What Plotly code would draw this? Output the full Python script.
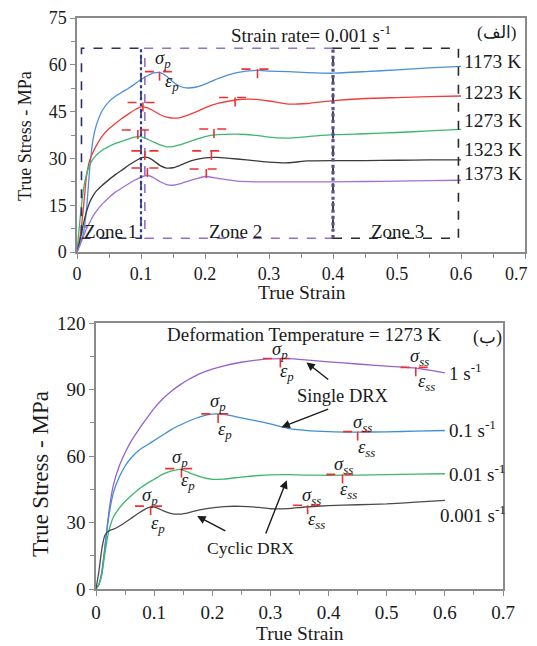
import plotly.graph_objects as go

# ---------------- Top chart data (strain rate 0.001 s^-1) ----------------
strain_top = [0, 0.005, 0.01, 0.015, 0.02, 0.025, 0.03, 0.04, 0.05, 0.06, 0.07, 0.08, 0.09,
              0.1, 0.11, 0.12, 0.13, 0.14, 0.15, 0.16, 0.17, 0.185, 0.2, 0.22, 0.25, 0.28,
              0.3, 0.33, 0.36, 0.4, 0.45, 0.5, 0.55, 0.6]
stress_1173 = [0, 2.5, 6, 14, 27, 36, 40.5, 45.5, 48.2, 49.9, 51.2, 52.4, 53.8,
               55.3, 56.5, 57.4, 57.5, 56.3, 54.5, 53.2, 52.6, 52.8, 53.8, 55.6, 57.5, 58.2,
               58, 57.8, 57.5, 57.3, 57.8, 58.4, 59, 59.5]
stress_1223 = [0, 5, 14, 24.5, 29.5, 32, 34, 37.3, 39.5, 41.2, 42.8, 44.2, 45.5,
               46.5, 46.2, 45.2, 44, 43.2, 42.9, 43, 43.6, 44.8, 46.2, 47.6, 48.8, 48.9,
               48.4, 47.4, 47.6, 48.5, 49.2, 49.5, 49.8, 50]
stress_1273 = [0, 11, 20, 25, 28, 29.8, 31, 32.7, 33.8, 34.8, 35.5, 36.2, 36.8,
               37, 36.2, 35.2, 34.3, 33.7, 33.8, 34.3, 35, 36, 37, 37.6, 37.8, 37.4,
               36.8, 36.5, 37, 37.6, 37.9, 38.3, 38.8, 39.3]
stress_1323 = [0, 4, 9, 13, 16, 18, 19.5, 21.5, 23.2, 24.8, 26.2, 27.7, 29,
               30.2, 30.3, 29.2, 27.7, 26.9, 27, 27.7, 28.6, 29.6, 30.2, 30.3, 29.8, 29.2,
               28.8, 28.6, 29.2, 29.3, 29.3, 29.4, 29.5, 29.5]
stress_1373 = [0, 2.5, 5, 7.5, 9.5, 11.5, 13, 15.5, 17.5, 19.2, 20.5, 21.8, 23,
               24, 24.6, 23.8, 22.5, 21.6, 21.4, 21.8, 22.5, 23.4, 24.2, 23.6, 22.7, 22.5,
               22.5, 22.5, 22.5, 22.5, 22.6, 22.7, 22.9, 23]
temp_labels = ["1173 K", "1223 K", "1273 K", "1323 K", "1373 K"]
temp_label_y = [61, 51, 42, 32.8, 25.3]
top_colors = ["#4a90d9", "#f23b3b", "#3fb66e", "#3a3a3a", "#9d72d2"]

# x tick values / labels (top chart's last label is placed separately so it is not clipped)
x_tickvals = [0, 0.1, 0.2, 0.3, 0.4, 0.5, 0.6, 0.7]
x_ticktext = ["0", "0.1", "0.2", "0.3", "0.4", "0.5", "0.6", "0.7"]

# peak / plateau marker points (strain, stress) for top chart
top_marks_strain = [0.129, 0.282, 0.103, 0.247, 0.095, 0.214, 0.106, 0.21, 0.11, 0.202]
top_marks_stress = [57.8, 58.6, 47.9, 49.5, 39.1, 39.4, 32.4, 32.4, 26.9, 26.6]
top_marks_left = [0.106, 0.257, 0.079, 0.222, 0.07, 0.191, 0.085, 0.18, 0.085, 0.176]
top_marks_right = [0.155, 0.30, 0.129, 0.27, 0.117, 0.238, 0.134, 0.227, 0.137, 0.219]

# zones (strain ranges)
zone_names = ["Zone 1", "Zone 2", "Zone 3"]
zone_start = [0.007, 0.106, 0.4]
zone_end = [0.1, 0.4, 0.596]
zone_label_x = [0.052, 0.247, 0.5]
zone_colors = ["#2b2f63", "#9470c8", "#2a2a2a"]
zone_low, zone_high = 4.4, 65.3

# ---------------- Bottom chart data (T = 1273 K) ----------------
strain_bot = [0, 0.005, 0.01, 0.015, 0.02, 0.025, 0.03, 0.04, 0.05, 0.06, 0.075, 0.09,
              0.1, 0.115, 0.13, 0.145, 0.16, 0.18, 0.2, 0.22, 0.25, 0.28, 0.3, 0.33,
              0.36, 0.4, 0.45, 0.5, 0.55, 0.6]
stress_1 = [0, 2, 8, 18, 30, 40, 47, 55.5, 61.5, 66.5, 72.5, 78,
            81.5, 85.8, 89.3, 92.2, 94.6, 97.3, 99.2, 100.7, 102.3, 103.4, 103.8, 103.9,
            103.4, 102.5, 101.5, 100.5, 99.6, 97.5]
stress_01 = [0, 2, 7, 18, 29, 37.5, 43.5, 50.5, 55.5, 59, 62.8, 65.3,
             67, 69.5, 72, 74, 75.8, 77.8, 78.9, 78.8, 77.2, 75.6, 74.5, 72.5,
             71.6, 71, 70.8, 70.9, 71.2, 71.5]
stress_001 = [0, 2, 6.5, 15.5, 23.5, 29, 32.5, 36.5, 39.5, 42, 45.3, 48,
              49.5, 51.8, 53.3, 54, 52.5, 50.6, 49.5, 49.6, 50.5, 51.2, 51.5, 51.6,
              51.4, 51.3, 51.4, 51.6, 51.8, 52]
stress_0001 = [0, 8, 18, 24, 25.8, 26.6, 27, 28.3, 30, 31.8, 34.5, 36.7,
               37, 35.4, 34, 33.8, 34.5, 35.8, 36.6, 37.2, 37.3, 36.8, 36.2, 36.3,
               37, 37.6, 38, 38.4, 39.2, 40]
rate_labels = ["1 s<sup>-1</sup>", "0.1 s<sup>-1</sup>", "0.01 s<sup>-1</sup>", "0.001 s<sup>-1</sup>"]
rate_label_x = [0.603, 0.603, 0.603, 0.588]
rate_label_y = [97.7, 72, 52.5, 34]
bot_colors = ["#9462cc", "#3f8fd6", "#3fb66e", "#4a4a4a"]

# peak markers (sigma_p) and steady-state markers (sigma_ss) bottom chart
bot_peak_strain = [0.317, 0.21, 0.147, 0.094]
bot_peak_stress = [104, 79, 54.3, 37.4]
bot_peak_left = [0.287, 0.181, 0.119, 0.067]
bot_peak_right = [0.345, 0.236, 0.176, 0.122]
bot_ss_strain = [0.55, 0.45, 0.424, 0.364]
bot_ss_stress = [100, 71, 51.7, 37.8]
bot_ss_left = [0.524, 0.425, 0.396, 0.339]
bot_ss_right = [0.578, 0.484, 0.448, 0.391]

SERIF = "Liberation Serif, Times New Roman, DejaVu Serif, serif"
W, H, OFF = 529, 638, 8   # page body has an 8px margin


def PX(px):
    return (px - OFF) / W


def PY(py):
    return 1 - (py - OFF) / H


fig = go.Figure()

top_series = [stress_1173, stress_1223, stress_1273, stress_1323, stress_1373]
for s, c in zip(top_series, top_colors):
    fig.add_trace(go.Scatter(x=strain_top, y=s, mode="lines", xaxis="x", yaxis="y",
                             line=dict(color=c, width=1.3, shape="spline", smoothing=0.5),
                             showlegend=False, hoverinfo="skip"))

bot_series = [stress_1, stress_01, stress_001, stress_0001]
for s, c in zip(bot_series, bot_colors):
    fig.add_trace(go.Scatter(x=strain_bot, y=s, mode="lines", xaxis="x2", yaxis="y2",
                             line=dict(color=c, width=1.3, shape="spline", smoothing=0.5),
                             showlegend=False, hoverinfo="skip"))

shapes = []
# zone boxes
for i in range(3):
    shapes.append(dict(type="rect", xref="x", yref="y", x0=zone_start[i], x1=zone_end[i],
                       y0=zone_low, y1=zone_high,
                       line=dict(color=zone_colors[i], width=1.6, dash="dash")))
shapes.append(dict(type="line", xref="x", yref="y", x0=zone_start[2], x1=zone_start[2],
                   y0=zone_low, y1=zone_high, line=dict(color="#5b5190", width=3.2, dash="dot")))
shapes.append(dict(type="line", xref="x", yref="y", x0=zone_end[0], x1=zone_end[0],
                   y0=zone_low, y1=zone_high, line=dict(color="#2b3a8a", width=2.2, dash="dot")))

RED = "#f03030"


def cross(xa, ya, xs, ys, xl, xr, drop):
    shapes.append(dict(type="line", xref=xa, yref=ya, x0=xl, x1=xr, y0=ys, y1=ys,
                       line=dict(color=RED, width=1.6, dash="dash")))
    shapes.append(dict(type="line", xref=xa, yref=ya, x0=xs, x1=xs, y0=ys, y1=ys - drop,
                       line=dict(color=RED, width=1.6, dash="dash")))


for i in range(len(top_marks_strain)):
    cross("x", "y", top_marks_strain[i], top_marks_stress[i], top_marks_left[i], top_marks_right[i], 4.2)
for i in range(4):
    cross("x2", "y2", bot_peak_strain[i], bot_peak_stress[i], bot_peak_left[i], bot_peak_right[i], 6.5)
    cross("x2", "y2", bot_ss_strain[i], bot_ss_stress[i], bot_ss_left[i], bot_ss_right[i], 6.5)

ann = []


def txt(x, y, t, xa="x", ya="y", size=19, xanchor="center", **kw):
    ann.append(dict(x=x, y=y, xref=xa, yref=ya, text=t, showarrow=False, xanchor=xanchor,
                    yanchor="middle", font=dict(family=SERIF, size=size, color="#1a1a1a"), **kw))


# top texts
txt(0.365, 70, "Strain rate= 0.001 s<sup>-1</sup>", size=19)
txt(0.655, 70.3, "(الف)", size=17)
for name, xv in zip(zone_names, zone_label_x):
    txt(xv, 6.6, name)
for lab, yv in zip(temp_labels, temp_label_y):
    txt(0.601, yv, lab, xanchor="left", size=19.5)
txt(0.134, 61.6, "<i>σ<sub>p</sub></i>", size=18.5)
txt(0.149, 54.2, "<i>ε<sub>p</sub></i>", size=18.5)

# bottom texts
txt(0.357, 115, "Deformation Temperature = 1273 K", "x2", "y2", size=19)
txt(0.673, 113.4, "(ب)", "x2", "y2", size=18)
for lab, xv, yv in zip(rate_labels, rate_label_x, rate_label_y):
    txt(xv, yv, lab, "x2", "y2", size=19, xanchor="left")
sig_p_pos = [(0.317, 107.4), (0.21, 84.2), (0.144, 58.8), (0.093, 41.9)]
eps_p_pos = [(0.328, 97.7), (0.222, 71.5), (0.158, 48.3), (0.107, 28.9)]
sig_ss_pos = [(0.557, 104.4), (0.459, 74.5), (0.425, 55.8), (0.371, 41.6)]
eps_ss_pos = [(0.569, 93.2), (0.465, 63.3), (0.434, 44.6), (0.38, 31.1)]
for (x, y) in sig_p_pos:
    txt(x, y, "<i>σ<sub>p</sub></i>", "x2", "y2", size=18.5)
for (x, y) in eps_p_pos:
    txt(x, y, "<i>ε<sub>p</sub></i>", "x2", "y2", size=18.5)
for (x, y) in sig_ss_pos:
    txt(x, y, "<i>σ<sub>ss</sub></i>", "x2", "y2", size=18.5)
for (x, y) in eps_ss_pos:
    txt(x, y, "<i>ε<sub>ss</sub></i>", "x2", "y2", size=18.5)
txt(0.425, 87.2, "Single DRX", "x2", "y2", size=18.5)
txt(0.265, 18.4, "Cyclic DRX", "x2", "y2", size=17.5)

arrows = [((0.402, 94), (0.362, 102.2)), ((0.402, 81.4), (0.319, 73)),
          ((0.225, 25.9), (0.174, 32.9)), ((0.291, 24.4), (0.328, 49.1))]
for (t, h) in arrows:
    ann.append(dict(x=h[0], y=h[1], ax=t[0], ay=t[1], xref="x2", yref="y2", axref="x2", ayref="y2",
                    text="", showarrow=True, arrowhead=2, arrowsize=1.2, arrowwidth=1.4,
                    arrowcolor="#1a1a1a"))

# last top tick label, kept inside the visible page
ann.append(dict(x=PX(530), y=PY(262), xref="paper", yref="paper", text=x_ticktext[-1],
                showarrow=False, xanchor="right", yanchor="top",
                font=dict(family=SERIF, size=18, color="#1a1a1a")))


# axis titles
def title(x, y, t, angle=0, size=19, yanchor="middle"):
    ann.append(dict(x=x, y=y, xref="paper", yref="paper", text=t, showarrow=False,
                    textangle=angle, xanchor="center", yanchor=yanchor,
                    font=dict(family=SERIF, size=size, color="#1a1a1a")))


title(PX(302), PY(292.5), "True Strain", size=19.5)
title(PX(25), PY(136), "True Stress - MPa", angle=-90, size=18)
title(PX(300), PY(633), "True Strain", size=19.5)
title(PX(40), PY(474), "True Stress - MPa", angle=-90, size=23)

axis_common = dict(showline=True, linecolor="#8a8a8a", linewidth=1.5, mirror=True,
                   ticks="outside", ticklen=5, tickwidth=1.3, tickcolor="#8a8a8a",
                   showgrid=False, zeroline=False, automargin=False)
minor_x = dict(ticks="outside", dtick=0.05, ticklen=4, tickcolor="#8a8a8a")

fig.update_layout(
    width=W, height=H, margin=dict(l=0, r=0, t=0, b=0),
    paper_bgcolor="white", plot_bgcolor="white", showlegend=False,
    xaxis=dict(domain=[PX(77), PX(525)], anchor="y", range=[0, 0.7],
               tickvals=x_tickvals, ticktext=x_ticktext[:-1] + [""], minor=minor_x,
               tickfont=dict(family=SERIF, size=18, color="#1a1a1a"), **axis_common),
    yaxis=dict(domain=[PY(252), PY(18)], anchor="x", range=[0, 75], dtick=15,
               minor=dict(ticks="outside", dtick=7.5, ticklen=4, tickcolor="#8a8a8a"),
               tickfont=dict(family=SERIF, size=18, color="#1a1a1a"), **axis_common),
    xaxis2=dict(domain=[PX(96), PX(503)], anchor="y2", range=[0, 0.7],
                tickvals=x_tickvals, ticktext=x_ticktext, minor=minor_x,
                tickfont=dict(family=SERIF, size=19, color="#1a1a1a"), **axis_common),
    yaxis2=dict(domain=[PY(589), PY(323)], anchor="x2", range=[0, 120], dtick=30,
                minor=dict(ticks="outside", dtick=15, ticklen=4, tickcolor="#8a8a8a"),
                tickfont=dict(family=SERIF, size=19, color="#1a1a1a"), **axis_common),
    shapes=shapes, annotations=ann,
)

fig.write_html("out.html")
